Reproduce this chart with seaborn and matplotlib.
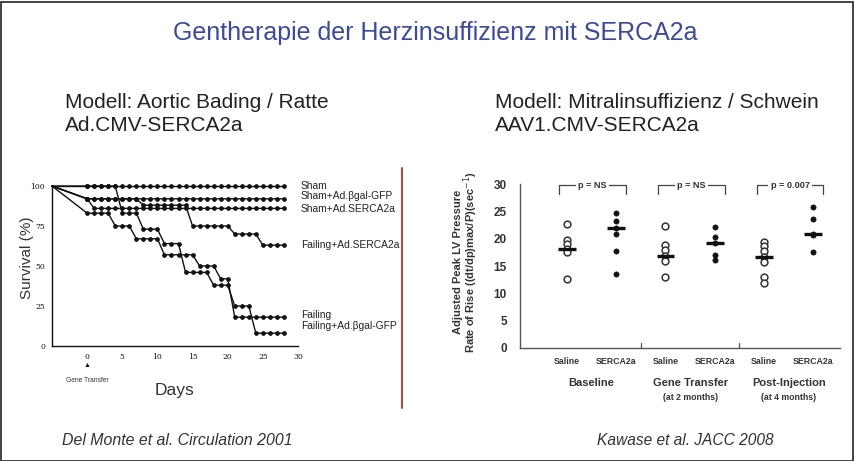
import matplotlib
matplotlib.use('Agg')
import matplotlib.pyplot as plt
import seaborn as sns
import pandas as pd
from matplotlib.patches import Rectangle

# --- left panel: survival (Del Monte et al. 2001), day -5 start then one value per day 0..28
days = [-5, 0, 1, 2, 3, 4, 5, 6, 7, 8, 9, 10, 11, 12, 13, 14, 15, 16, 17, 18, 19, 20,
        21, 22, 23, 24, 25, 26, 27, 28]
sham = [100, 100, 100, 100, 100, 100, 100, 100, 100, 100, 100, 100, 100, 100, 100, 100,
        100, 100, 100, 100, 100, 100, 100, 100, 100, 100, 100, 100, 100, 100]
sham_gfp = [100, 92, 92, 92, 92, 92, 92, 92, 92, 92, 92, 92, 92, 92, 92, 92, 92, 92, 92,
            92, 92, 92, 92, 92, 92, 92, 92, 92, 92, 92]
sham_serca = [100, 92, 86, 86, 86, 86, 86, 86, 86, 86, 86, 86, 86, 86, 86, 86, 86, 86, 86,
              86, 86, 86, 86, 86, 86, 86, 86, 86, 86, 86]
failing_serca = [100, 92, 92, 92, 92, 92, 92, 92, 92, 88, 88, 88, 88, 88, 88, 88, 75, 75,
                 75, 75, 75, 75, 70, 70, 70, 70, 63, 63, 63, 63]
failing = [100, 83, 83, 83, 83, 75, 75, 75, 67, 67, 67, 67, 57, 57, 57, 57, 57, 50, 50, 50,
           42, 42, 18, 18, 18, 18, 18, 18, 18, 18]
failing_gfp = [100, 100, 100, 100, 100, 100, 83, 83, 83, 73, 73, 73, 64, 64, 64, 46, 46, 46,
               46, 38, 38, 38, 25, 25, 25, 8, 8, 8, 8, 8]
curve_names = ['Sham', 'Sham+Ad.βgal-GFP', 'Sham+Ad.SERCA2a', 'Failing+Ad.SERCA2a',
               'Failing', 'Failing+Ad.βgal-GFP']
curves = [sham, sham_gfp, sham_serca, failing_serca, failing, failing_gfp]
label_y = [100, 93.7, 85.4, 63.1, 19.4, 12.7]

# --- right panel: Kawase et al. 2008
cat_labels = ['Saline', 'SERCA2a', 'Saline', 'SERCA2a', 'Saline', 'SERCA2a']
group_names = ['Baseline', 'Gene Transfer', 'Post-Injection']
group_sub = ['', '(at 2 months)', '(at 4 months)']
p_texts = ['p = NS', 'p = NS', 'p = 0.007']
saline_vals = [[22.8, 19.8, 19.0, 18.2, 17.6, 12.7],
               [22.4, 18.8, 17.9, 16.9, 16.0, 13.0],
               [19.4, 18.7, 17.8, 16.6, 15.8, 12.9, 11.8]]
serca_vals = [[24.7, 23.3, 21.9, 20.8, 17.7, 13.6],
              [22.1, 20.4, 19.3, 17.0, 16.1],
              [25.9, 23.6, 20.9, 20.6, 17.5]]
group_means = [18.2, 21.9, 16.9, 19.3, 16.6, 20.8]

sns.set_style('white')
plt.rcParams['font.family'] = ['Liberation Sans', 'DejaVu Sans']

W, H = 855, 461
fig = plt.figure(figsize=(W / 100, H / 100), dpi=100)


def fx(px):
    return px / W


def fy(py):
    return 1 - py / H


# frame and slide texts
fig.patches.append(Rectangle((0.001, 0.001), 0.997, 0.995, transform=fig.transFigure,
                             fill=False, lw=1.2, ec='#222'))
fig.text(fx(435), fy(33), 'Gentherapie der Herzinsuffizienz mit SERCA2a', ha='center',
         va='center', fontsize=18, color='#3c4a99')
fig.text(fx(65), fy(103), 'Modell: Aortic Bading / Ratte', ha='left', va='center',
         fontsize=15, color='#222')
fig.text(fx(65), fy(125), 'Ad.CMV-SERCA2a', ha='left', va='center', fontsize=15, color='#222')
fig.text(fx(495), fy(103), 'Modell: Mitralinsuffizienz / Schwein', ha='left', va='center',
         fontsize=15, color='#222')
fig.text(fx(495), fy(125), 'AAV1.CMV-SERCA2a', ha='left', va='center', fontsize=15,
         color='#222')
fig.text(fx(62), fy(440), 'Del Monte et al. Circulation 2001', ha='left', va='center',
         fontsize=11.4, style='italic', color='#333')
fig.text(fx(597), fy(440), 'Kawase et al. JACC 2008', ha='left', va='center',
         fontsize=11.2, style='italic', color='#333')

# red divider line of the scanned figure
fig.add_artist(plt.Line2D([fx(402), fx(402)], [fy(168), fy(408)], color='#a0503c', lw=1.5))

# ---------- left survival panel
ax1 = fig.add_axes([fx(52), fy(346), fx(298 - 52), (346 - 186) / H])
for vals in curves:
    df = pd.DataFrame({'day': days, 'surv': vals})
    sns.lineplot(data=df, x='day', y='surv', color='#111', lw=1.0, marker='o', ms=2.6,
                 mec='#111', markevery=list(range(1, len(days))), ax=ax1, clip_on=False,
                 sort=False, estimator=None)
ax1.set_xlim(-5, 30)
ax1.set_ylim(0, 100)
ax1.set_xticks([0, 5, 10, 15, 20, 25, 30])
ax1.set_yticks([0, 25, 50, 75, 100])
ax1.tick_params(direction='inout', length=4, width=0.8, labelsize=5.5, pad=3, colors='#111')
for lab in ax1.get_xticklabels() + ax1.get_yticklabels():
    lab.set_family('DejaVu Serif')
ax1.set_xlabel('')
ax1.set_ylabel('')
sns.despine(ax=ax1)
for s in ['left', 'bottom']:
    ax1.spines[s].set_color('#111')
    ax1.spines[s].set_linewidth(1.0)
for name, y in zip(curve_names, label_y):
    ax1.text(30.4, y, name, fontsize=7.4, va='center', ha='left', color='#222',
             clip_on=False)
fig.text(fx(27), fy(258), 'Survival (%)', rotation=90, ha='center', va='center',
         fontsize=11, color='#333')
fig.text(fx(175), fy(390), 'Days', ha='center', va='center', fontsize=12.5, color='#333')
fig.text(fx(87), fy(365), '▲', ha='center', va='center', fontsize=5, color='#111')
fig.text(fx(87), fy(380), 'Gene Transfer', ha='center', va='center', fontsize=4.8,
         color='#333')

# ---------- right scatter panel
ax2 = fig.add_axes([fx(520), fy(347.7), fx(840 - 520), (347.7 - 184.3) / H])
txt = '#333'
for g in range(3):
    ds = pd.DataFrame({'pos': 2 * g, 'val': saline_vals[g]})
    sns.scatterplot(data=ds, x='pos', y='val', marker='o', s=24, facecolor='white',
                    edgecolor=txt, linewidth=1.1, ax=ax2, zorder=3)
    dr = pd.DataFrame({'pos': 2 * g + 1, 'val': serca_vals[g]})
    sns.scatterplot(data=dr, x='pos', y='val', marker='o', s=14, color='#111',
                    edgecolor='#111', linewidth=0.5, ax=ax2, zorder=3)
for i, m in enumerate(group_means):
    ax2.hlines(m, i - 0.18, i + 0.18, color='#111', lw=2.4, zorder=4)

ax2.set_xlim(-0.95, 5.54)
ax2.set_ylim(0, 30)
ax2.set_yticks([0, 5, 10, 15, 20, 25, 30])
ax2.set_xticks([])
ax2.set_xlabel('')
ax2.set_ylabel('')
sns.despine(ax=ax2)
for s in ['left', 'bottom']:
    ax2.spines[s].set_color('#555')
    ax2.spines[s].set_linewidth(1.0)
ax2.tick_params(axis='y', direction='out', length=3.5, width=0.9, colors='#555',
                labelcolor=txt, labelsize=8.5, pad=6)
for lab in ax2.get_yticklabels():
    lab.set_fontweight('bold')
for xs in [1.5, 3.5]:
    ax2.plot([xs, xs], [0, 0.9], color='#555', lw=0.9, clip_on=False)

for g in range(3):
    xl, xr = 2 * g - 0.15, 2 * g + 1.2
    ax2.plot([xl, xl, xr, xr], [28.3, 29.8, 29.8, 28.3], color='#444', lw=0.9,
             clip_on=False)
    ax2.text((xl + xr) / 2, 29.8, p_texts[g], ha='center', va='center', fontsize=6.6,
             fontweight='bold', color=txt,
             bbox=dict(boxstyle='square,pad=0.25', fc='white', ec='none'))
    ax2.text(2 * g + 0.5, -6.4, group_names[g], ha='center', va='center', fontsize=8,
             fontweight='bold', color=txt, clip_on=False)
    if group_sub[g]:
        ax2.text(2 * g + 0.5, -9.2, group_sub[g], ha='center', va='center', fontsize=6.3,
                 fontweight='bold', color=txt, clip_on=False)
for i, lab in enumerate(cat_labels):
    ax2.text(i, -2.5, lab, ha='center', va='center', fontsize=6.3, fontweight='bold',
             color=txt, clip_on=False)

fig.text(fx(458), fy(262), 'Adjusted Peak LV Pressure', rotation=90, ha='center',
         va='center', fontsize=8, fontweight='bold', color=txt)
fig.text(fx(471), fy(262), 'Rate of Rise ((dt/dp)max/P)(sec$^{-1}$)', rotation=90,
         ha='center', va='center', fontsize=8, fontweight='bold', color=txt)

fig.savefig('out.png', dpi=100)
